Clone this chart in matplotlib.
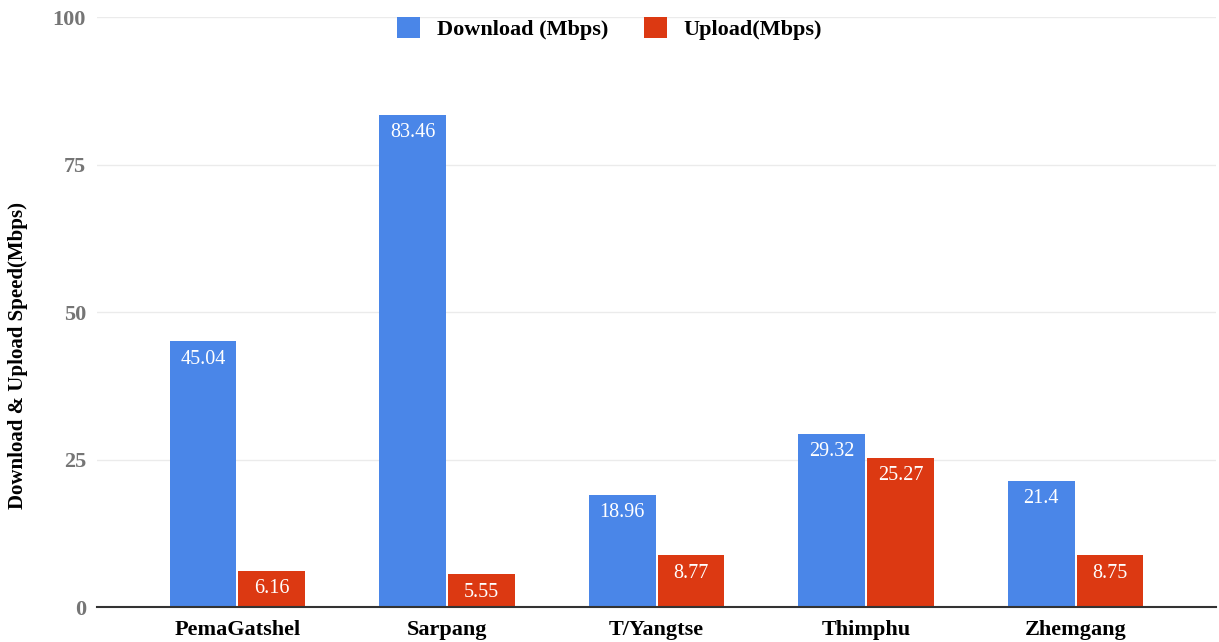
import numpy as np
import matplotlib.pyplot as plt

districts = ['PemaGatshel', 'Sarpang', 'T/Yangtse', 'Thimphu', 'Zhemgang']
download = [45.04, 83.46, 18.96, 29.32, 21.4]
upload = [6.16, 5.55, 8.77, 25.27, 8.75]

plt.rcParams['font.family'] = ['Liberation Serif', 'DejaVu Serif']

fig = plt.figure(figsize=(12.19, 6.42), dpi=100)
ax = fig.add_axes([0.0796, 0.0545, 0.918, 0.919])

x = np.arange(len(districts))
w = 0.318
b1 = ax.bar(x - w/2 - 0.005, download, w, color='#4a86e8', label='Download (Mbps)', zorder=3)
b2 = ax.bar(x + w/2 + 0.005, upload, w, color='#dc3912', label='Upload(Mbps)', zorder=3)

for bars in (b1, b2):
    for r in bars:
        h = r.get_height()
        ax.annotate(f'{h:g}', (r.get_x() + r.get_width()/2, h), xytext=(0, -6),
                    textcoords='offset points', ha='center', va='top',
                    color='white', fontsize=14.5, zorder=4)

ax.set_ylim(0, 100)
ax.set_xlim(-0.67, 4.67)
ax.set_yticks([0, 25, 50, 75, 100])
ax.set_xticks(x)
ax.set_xticklabels(districts, fontsize=16, fontweight='bold')
for t in ax.get_yticklabels():
    t.set_fontsize(16)
    t.set_fontweight('bold')
    t.set_color('#757575')
ax.tick_params(length=0)
ax.tick_params(axis='y', pad=8)
ax.tick_params(axis='x', pad=9)
ax.grid(axis='y', color='#ebebeb', linewidth=1, zorder=0)
for s in ['top', 'right', 'left']:
    ax.spines[s].set_visible(False)
ax.spines['bottom'].set_color('#333333')
ax.spines['bottom'].set_linewidth(1.5)
ax.spines['bottom'].set_zorder(5)

ax.set_ylabel('Download & Upload Speed(Mbps)', fontsize=15, fontweight='bold')
ax.yaxis.set_label_coords(-0.0616, 0.427)

ax.legend(loc='center', bbox_to_anchor=(0.458, 0.98), ncol=2, frameon=False,
          prop={'size': 16, 'weight': 'bold'}, handlelength=1.05, handleheight=1.05,
          columnspacing=1.6, handletextpad=0.75)

fig.savefig('out.png', dpi=100)
